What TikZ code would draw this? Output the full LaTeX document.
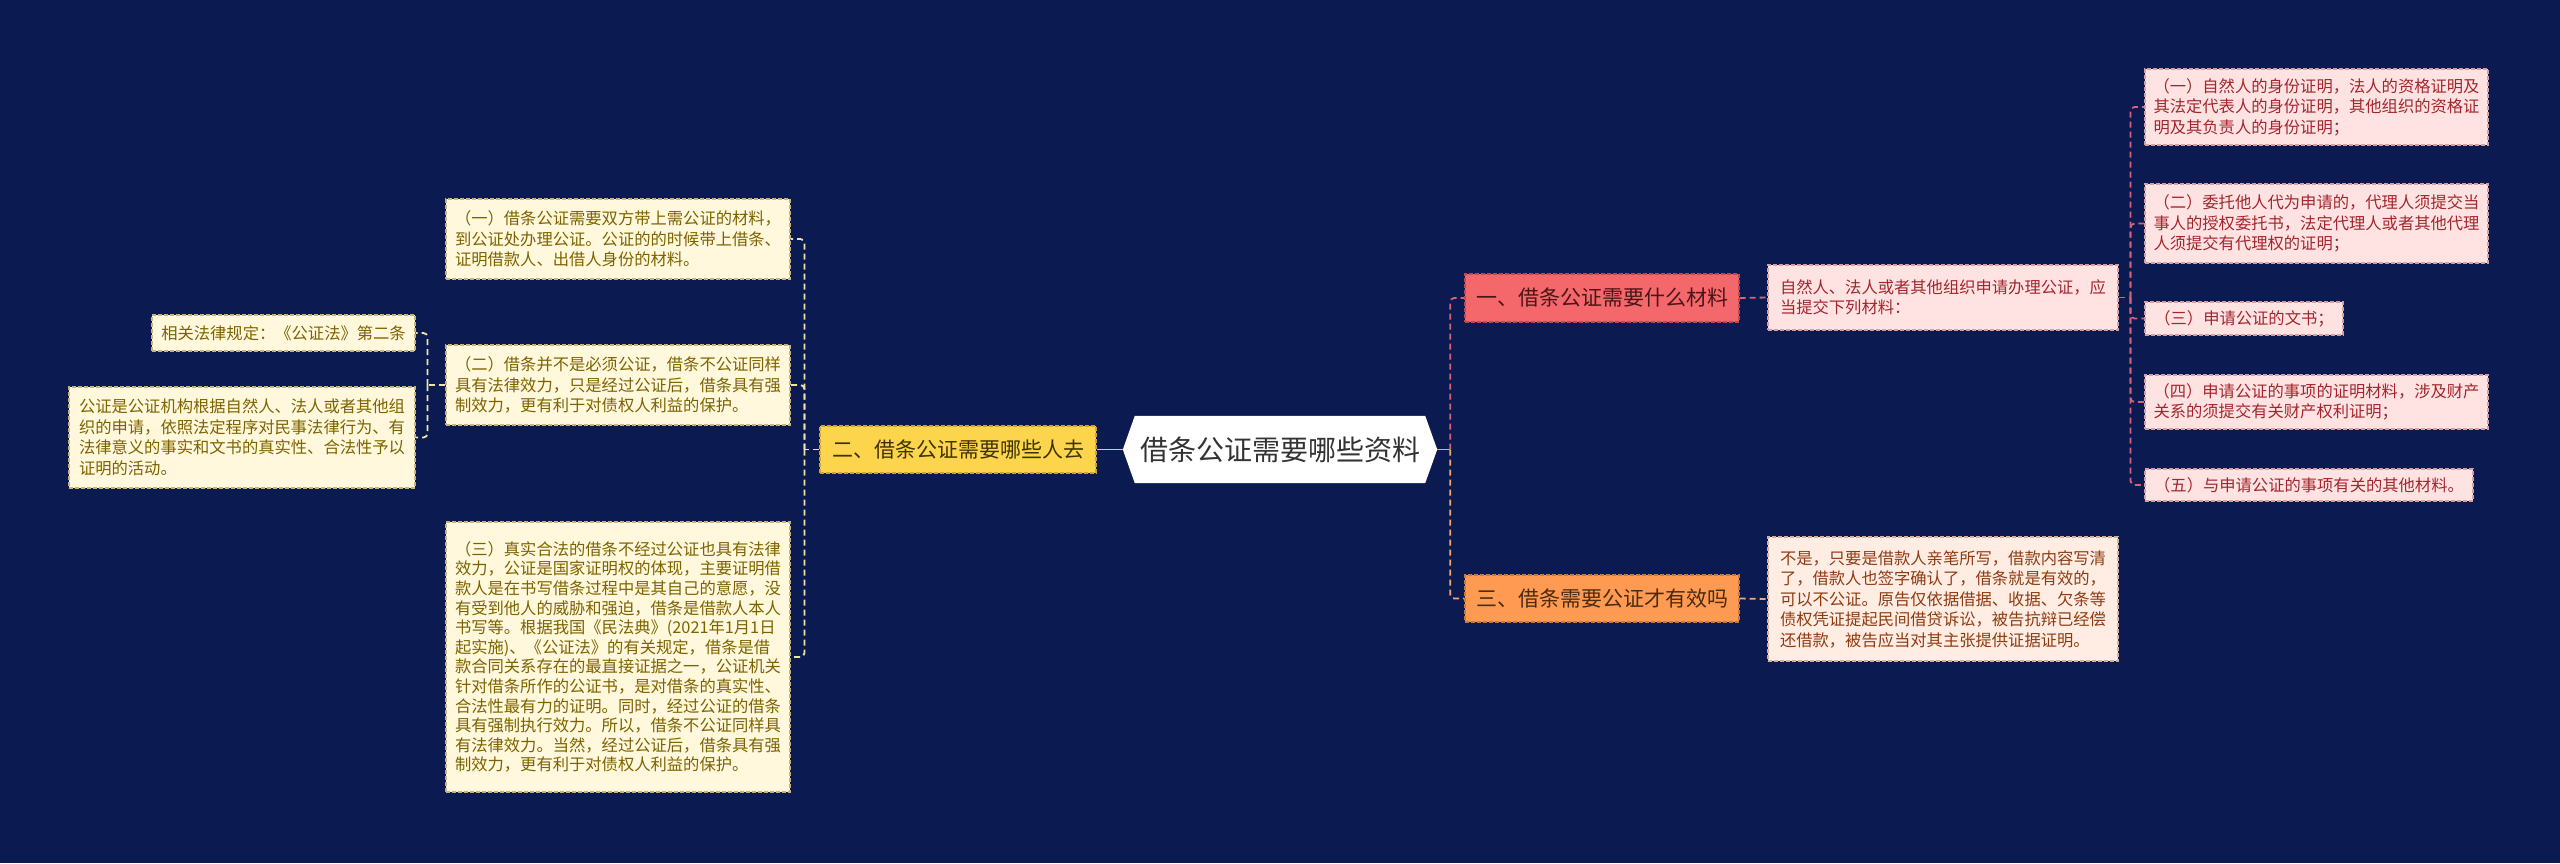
\documentclass[tikz,border=0pt]{standalone}
\usepackage{fontspec}
\setmainfont{Noto Sans CJK SC}
\usetikzlibrary{backgrounds}
\definecolor{bg}{HTML}{0B1B52}
\definecolor{yfill}{HTML}{FDD54C}
\definecolor{ybord}{HTML}{C9A436}
\definecolor{ytext}{HTML}{3D3300}
\definecolor{rfill}{HTML}{F4676B}
\definecolor{rbord}{HTML}{B84A50}
\definecolor{rtext}{HTML}{4A1515}
\definecolor{ofill}{HTML}{FF9A52}
\definecolor{obord}{HTML}{C87A3C}
\definecolor{otext}{HTML}{4A2A10}
\definecolor{lfill}{HTML}{FFF8DC}
\definecolor{lbord}{HTML}{C8B478}
\definecolor{ltext}{HTML}{7D6300}
\definecolor{pfill}{HTML}{FFE3E3}
\definecolor{pbord}{HTML}{D4A0A4}
\definecolor{ptext}{HTML}{A3262E}
\definecolor{efill}{HTML}{FFEDE3}
\definecolor{ebord}{HTML}{D8B0A0}
\definecolor{etext}{HTML}{8E3B12}
\definecolor{yline}{HTML}{EEE3A8}
\definecolor{ysolid}{HTML}{E9D060}
\definecolor{pline}{HTML}{D8607A}
\definecolor{oline}{HTML}{F5A86A}
\definecolor{rootfill}{HTML}{FFFFFF}
\definecolor{roottext}{HTML}{333333}
\tikzset{
  box/.style={inner sep=0pt, align=left, line width=1.1pt, dash pattern=on 4pt off 2pt},
  branch/.style={box, font=\fontsize{21}{25}\selectfont, align=center},
  ybranch/.style={branch, fill=yfill, draw=ybord, text=ytext},
  rbranch/.style={branch, fill=rfill, draw=rbord, text=rtext},
  obranch/.style={branch, fill=ofill, draw=obord, text=otext},
  leaf/.style={box, font=\fontsize{16.3}{20.5}\selectfont},
  lleaf/.style={leaf, fill=lfill, draw=lbord, text=ltext},
  pleaf/.style={leaf, fill=pfill, draw=pbord, text=ptext},
  eleaf/.style={leaf, fill=efill, draw=ebord, text=etext},
  conn/.style={line width=1.8pt, dash pattern=on 6pt off 4pt, rounded corners=4pt},
  ycon/.style={conn, draw=yline},
  pcon/.style={conn, draw=pline},
  ocon/.style={conn, draw=oline},
}
\begin{document}
\begin{tikzpicture}[x=1pt,y=-1pt]
\begin{scope}[on background layer]
\fill[bg] (0,0) rectangle (2560,863);
\end{scope}
\useasboundingbox (0,0) rectangle (2560,863);

% root
\node[inner sep=0pt, minimum width=314pt, minimum height=67pt, text=roottext, font=\fontsize{28}{32}\selectfont] (root) at (1280,449.5) {借条公证需要哪些资料};
\begin{scope}[on background layer]
\fill[rootfill] (root.west) -- ([xshift=12pt]root.north west) -- ([xshift=-12pt]root.north east) -- (root.east) -- ([xshift=-12pt]root.south east) -- ([xshift=12pt]root.south west) -- cycle;
\end{scope}

% branches
\node[ybranch, minimum width=276pt, minimum height=47pt] (b2) at (958,449.5) {二、借条公证需要哪些人去};
\node[rbranch, minimum width=274pt, minimum height=48pt] (b1) at (1602,298) {一、借条公证需要什么材料};
\node[obranch, minimum width=274pt, minimum height=47pt] (b3) at (1602,598.5) {三、借条需要公证才有效吗};

% right side of b1
\node[pleaf, minimum width=350pt, minimum height=65pt] (p0) at (1943,297.5) {自然人、法人或者其他组织申请办理公证，应\\当提交下列材料：};
\node[pleaf, minimum width=343pt, minimum height=76pt] (r1) at (2316.5,107) {（一）自然人的身份证明，法人的资格证明及\\其法定代表人的身份证明，其他组织的资格证\\明及其负责人的身份证明；};
\node[pleaf, minimum width=343pt, minimum height=79pt] (r2) at (2316.5,223.5) {（二）委托他人代为申请的，代理人须提交当\\事人的授权委托书，法定代理人或者其他代理\\人须提交有代理权的证明；};
\node[pleaf, minimum width=198pt, minimum height=33pt] (r3) at (2244,318.5) {（三）申请公证的文书；};
\node[pleaf, minimum width=343pt, minimum height=54pt] (r4) at (2316.5,402) {（四）申请公证的事项的证明材料，涉及财产\\关系的须提交有关财产权利证明；};
\node[pleaf, minimum width=328pt, minimum height=32pt] (r5) at (2309,485) {（五）与申请公证的事项有关的其他材料。};

% right side of b3
\node[eleaf, minimum width=350pt, minimum height=124pt] (e0) at (1943,599) {不是，只要是借款人亲笔所写，借款内容写清\\了，借款人也签字确认了，借条就是有效的，\\可以不公证。原告仅依据借据、收据、欠条等\\债权凭证提起民间借贷诉讼，被告抗辩已经偿\\还借款，被告应当对其主张提供证据证明。};

% left side of b2
\node[lleaf, minimum width=344pt, minimum height=80pt] (l1) at (618,239) {（一）借条公证需要双方带上需公证的材料，\\到公证处办理公证。公证的的时候带上借条、\\证明借款人、出借人身份的材料。};
\node[lleaf, minimum width=344pt, minimum height=80pt] (l2) at (618,385) {（二）借条并不是必须公证，借条不公证同样\\具有法律效力，只是经过公证后，借条具有强\\制效力，更有利于对债权人利益的保护。};
\node[lleaf, minimum width=344pt, minimum height=270pt, font=\fontsize{16.3}{19.6}\selectfont] (l3) at (618,657) {（三）真实合法的借条不经过公证也具有法律\\效力，公证是国家证明权的体现，主要证明借\\款人是在书写借条过程中是其自己的意愿，没\\有受到他人的威胁和强迫，借条是借款人本人\\书写等。根据我国《民法典》(2021年1月1日\\起实施)、《公证法》的有关规定，借条是借\\款合同关系存在的最直接证据之一，公证机关\\针对借条所作的公证书，是对借条的真实性、\\合法性最有力的证明。同时，经过公证的借条\\具有强制执行效力。所以，借条不公证同样具\\有法律效力。当然，经过公证后，借条具有强\\制效力，更有利于对债权人利益的保护。};
\node[lleaf, minimum width=263pt, minimum height=36pt] (m1) at (283.5,333) {相关法律规定：《公证法》第二条};
\node[lleaf, minimum width=346pt, minimum height=101pt] (m2) at (242,437.5) {公证是公证机构根据自然人、法人或者其他组\\织的申请，依照法定程序对民事法律行为、有\\法律意义的事实和文书的真实性、合法性予以\\证明的活动。};

% connectors: root
\draw[line width=1.8pt, draw=oline] (root.east) -- ++(13,0) coordinate (rj);
\draw[pcon] (rj) |- (b1.west);
\draw[ocon] (rj) |- (b3.west);
\draw[line width=1.8pt, draw=ysolid] (root.west) -- (b2.east);

% b2 to left leaves
\draw[ycon] (b2.west) -- ++(-15,0) coordinate (lj);
\draw[ycon] (lj) |- (l1.east);
\draw[ycon] (lj) |- (l2.east);
\draw[ycon] (lj) |- (l3.east);

% l2 to its leaves
\draw[ycon] (l2.west) -- ++(-18,0) coordinate (mj);
\draw[ycon] (mj) |- (m1.east);
\draw[ycon] (mj) |- (m2.east);

% b1 to p0, p0 to r*
\draw[pcon] (b1.east) -- (p0.west);
\draw[pcon] (p0.east) -- ++(12,0) coordinate (pj);
\draw[pcon] (pj) |- (r1.west);
\draw[pcon] (pj) |- (r2.west);
\draw[pcon] (pj) |- (r3.west);
\draw[pcon] (pj) |- (r4.west);
\draw[pcon] (pj) |- (r5.west);

% b3 to e0
\draw[ocon] (b3.east) -- (e0.west);
\end{tikzpicture}
\end{document}
